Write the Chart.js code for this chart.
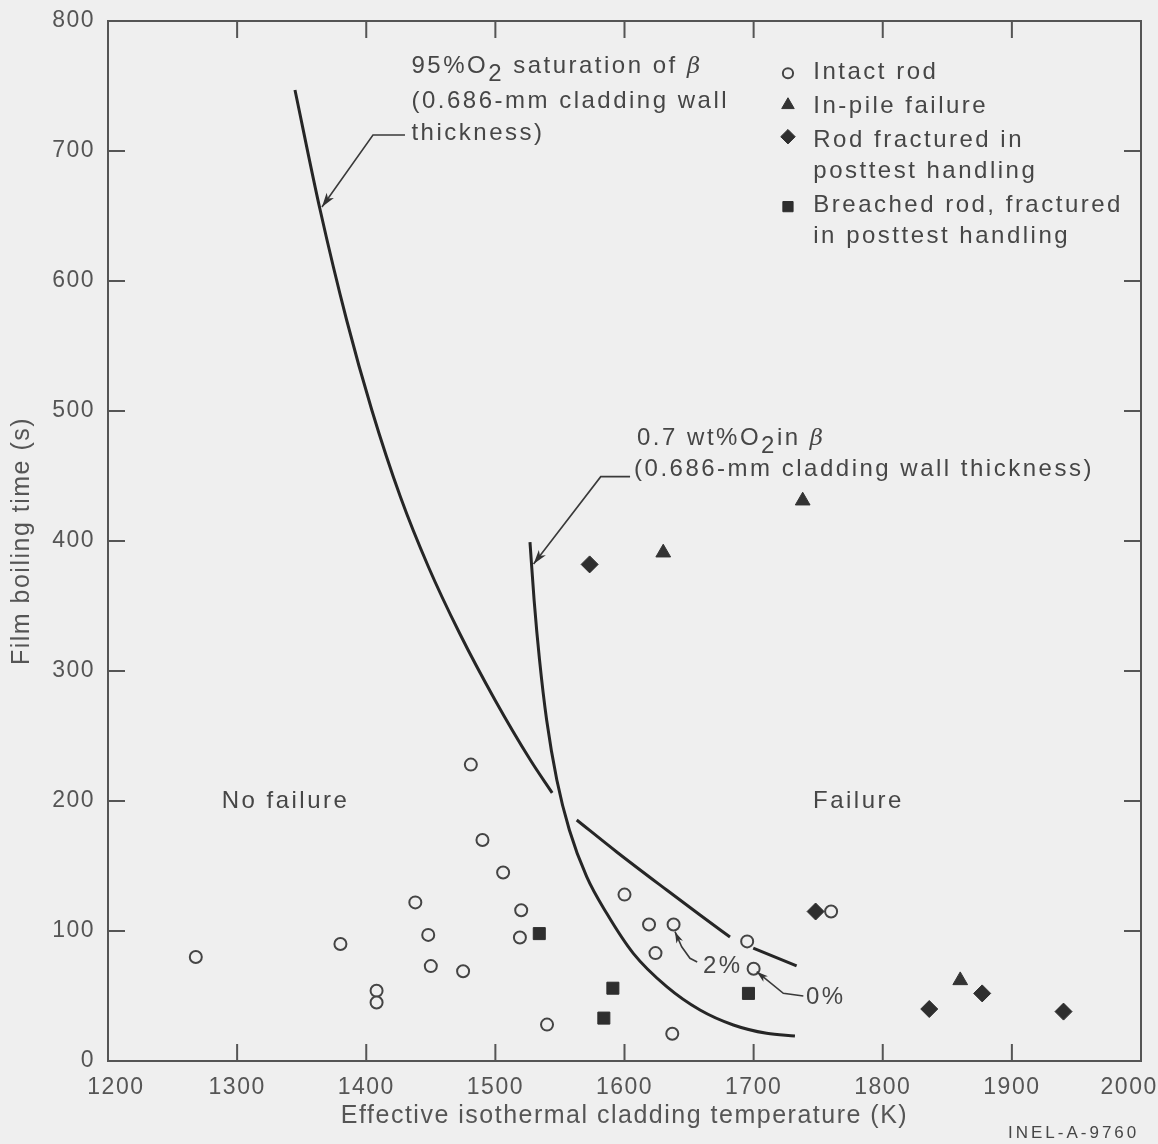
<!DOCTYPE html>
<html>
<head>
<meta charset="utf-8">
<title>Film boiling time vs effective cladding temperature</title>
<script src="https://cdn.jsdelivr.net/npm/chart.js@4.4.1/dist/chart.umd.min.js"></script>
<style>
  html, body { margin: 0; padding: 0; background: #efefef; }
  #wrap { position: relative; width: 1158px; height: 1144px; }
</style>
</head>
<body>
<div id="wrap"><canvas id="chart"></canvas></div>
<script>
// axis ticks
const tempTicks = [1200, 1300, 1400, 1500, 1600, 1700, 1800, 1900, 2000];
const timeTicks = [0, 100, 200, 300, 400, 500, 600, 700, 800];

// test rods: [temperature K, film boiling time s]
const intactRod = [
  [1268, 80], [1380, 90], [1408, 54], [1408, 45], [1438, 122], [1448, 97],
  [1450, 73], [1475, 69], [1481, 228], [1490, 170], [1506, 145], [1520, 116],
  [1519, 95], [1540, 28], [1600, 128], [1619, 105], [1638, 105], [1624, 83],
  [1637, 21], [1695, 92], [1700, 71], [1760, 115]
];
const inPileFailure = [[1630, 391], [1738, 431], [1860, 62]];
const fracturedHandling = [[1573, 382], [1748, 115], [1836, 40], [1877, 52], [1940, 38]];
const breachedRod = [[1534, 98], [1591, 56], [1584, 33], [1696, 52]];

// boundary curves (null = break in the drawn line)
const curveSat95 = [
  [1344.8, 746.9], [1364.3, 654.6], [1384.8, 570.0], [1404.3, 500.8], [1426.5, 433.8],
  [1448.2, 380.0], [1472.2, 329.2], [1499.7, 277.7], [1527.1, 231.5], [1544.0, 206.2],
  [1553, null],
  [1563.0, 185.4], [1594.0, 160.8], [1632.7, 131.5], [1658.5, 112.3], [1681.7, 95.4],
  [1690, null],
  [1699.7, 86.9], [1733.3, 73.1]
];
const curveO2wt07 = [
  [1526.8, 399.2], [1530.0, 354.6], [1534.2, 308.5], [1539.7, 262.3], [1547.6, 216.2],
  [1557.3, 177.7], [1570.7, 141.8], [1586.2, 113.6], [1606.8, 82.8], [1632.7, 57.2],
  [1658.5, 39.2], [1684.3, 27.7], [1710.1, 21.3], [1732.0, 19.2]
];

const BG = '#efefef';
const INK = '#464646';
const DARK = '#262626';
const FONT = '"Liberation Sans", Arial, sans-serif';

const pts = arr => arr.map(([x, y]) => ({ x, y }));

const markStyles = {
  circle:  { pointStyle: 'circle',  radius: 6,   borderWidth: 2, fill: BG,      stroke: '#444' },
  triangle:{ pointStyle: 'triangle',radius: 8.5, borderWidth: 1, fill: '#333',  stroke: '#333' },
  diamond: { pointStyle: 'rectRot', radius: 8.5, borderWidth: 1, fill: '#2e2e2e', stroke: '#2e2e2e' },
  square:  { pointStyle: 'rect',    radius: 8.5, borderWidth: 1, fill: '#2e2e2e', stroke: '#2e2e2e' }
};

function markDataset(label, data, st) {
  return {
    label: label,
    data: pts(data),
    pointStyle: st.pointStyle,
    pointRadius: st.radius,
    pointBorderWidth: st.borderWidth,
    pointBackgroundColor: st.fill,
    pointBorderColor: st.stroke,
    showLine: false
  };
}

function curveDataset(label, data) {
  return {
    label: label,
    data: pts(data),
    showLine: true,
    pointRadius: 0,
    borderColor: DARK,
    borderWidth: 3,
    cubicInterpolationMode: 'monotone',
    spanGaps: false
  };
}

// frame with inward ticks on all four sides
const framePlugin = {
  id: 'frame',
  beforeDraw(chart) {
    const ctx = chart.ctx;
    ctx.save();
    ctx.fillStyle = BG;
    ctx.fillRect(0, 0, chart.width, chart.height);
    ctx.restore();
    ctx.letterSpacing = '1.5px';
  },
  beforeDatasetsDraw(chart) {
    const { ctx, chartArea: a, scales: { x, y } } = chart;
    const len = 17;
    ctx.save();
    ctx.strokeStyle = '#555';
    ctx.lineWidth = 2;
    ctx.strokeRect(a.left, a.top, a.right - a.left, a.bottom - a.top);
    ctx.beginPath();
    tempTicks.slice(1, -1).forEach(v => {
      const px = x.getPixelForValue(v);
      ctx.moveTo(px, a.bottom); ctx.lineTo(px, a.bottom - len);
      ctx.moveTo(px, a.top); ctx.lineTo(px, a.top + len);
    });
    timeTicks.slice(1, -1).forEach(v => {
      const py = y.getPixelForValue(v);
      ctx.moveTo(a.left, py); ctx.lineTo(a.left + len, py);
      ctx.moveTo(a.right, py); ctx.lineTo(a.right - len, py);
    });
    ctx.stroke();
    ctx.restore();
  }
};

// labels, leader arrows and the key, placed in data units
const notesPlugin = {
  id: 'notes',
  afterDatasetsDraw(chart) {
    const { ctx, scales: { x, y } } = chart;
    const P = (t, v) => [x.getPixelForValue(t), y.getPixelForValue(v)];
    const size = 24;

    function rich(segs, t, v) {
      let [cx, cy] = P(t, v);
      segs.forEach(s => {
        ctx.font = s.it ? 'italic ' + (size - 1) + 'px "DejaVu Serif", serif' : size + 'px ' + FONT;
        ctx.fillText(s.t, cx, cy + (s.sub ? 8 : 0));
        cx += ctx.measureText(s.t).width;
      });
    }
    function text(str, t, v) { rich([{ t: str }], t, v); }

    function leader(path, head) {
      const p = path.map(([t, v]) => P(t, v));
      ctx.beginPath();
      ctx.moveTo(p[0][0], p[0][1]);
      p.slice(1).forEach(q => ctx.lineTo(q[0], q[1]));
      ctx.stroke();
      const [ax, ay] = p[p.length - 1];
      const [bx, by] = p[p.length - 2];
      const ang = Math.atan2(ay - by, ax - bx);
      ctx.beginPath();
      ctx.moveTo(ax, ay);
      ctx.lineTo(ax - head * Math.cos(ang - 0.3), ay - head * Math.sin(ang - 0.3));
      ctx.lineTo(ax - head * 0.7 * Math.cos(ang), ay - head * 0.7 * Math.sin(ang));
      ctx.lineTo(ax - head * Math.cos(ang + 0.3), ay - head * Math.sin(ang + 0.3));
      ctx.closePath();
      ctx.fill();
    }

    ctx.save();
    ctx.letterSpacing = '2.5px';
    ctx.fillStyle = INK;
    ctx.textAlign = 'left';
    ctx.textBaseline = 'alphabetic';

    rich([{ t: '95%O' }, { t: '2', sub: true }, { t: ' saturation of ' }, { t: 'β', it: true }], 1435, 760);
    text('(0.686-mm cladding wall', 1435, 732.8);
    text('thickness)', 1435, 708.5);

    rich([{ t: '0.7 wt%O' }, { t: '2', sub: true }, { t: 'in ' }, { t: 'β', it: true }], 1609.7, 473.8);
    text('(0.686-mm cladding wall thickness)', 1607.4, 450);

    text('No failure', 1288, 194.6);
    text('Failure', 1746, 194.6);
    text('2%', 1660.8, 67.7);
    text('0%', 1740.5, 43.8);

    ctx.strokeStyle = '#3a3a3a';
    ctx.fillStyle = '#333';
    ctx.lineWidth = 1.6;
    leader([[1430, 712.3], [1405.2, 712.3], [1365.7, 656.9]], 15);
    leader([[1604.3, 449.5], [1581.6, 449.5], [1529.6, 382.3]], 15);
    leader([[1656.3, 76.2], [1650.7, 79], [1644.3, 87.9], [1639.1, 99.5]], 12);
    leader([[1738.5, 50], [1723, 52.1], [1702.4, 68.7]], 12);

    // key
    const keyT = 1726.6, keyTextT = 1746.2;
    const keyMarks = [[markStyles.circle, 759.8], [markStyles.triangle, 735.4],
                      [markStyles.diamond, 711], [markStyles.square, 657.2]];
    keyMarks.forEach(([st, v]) => {
      const [px, py] = P(keyT, v);
      ctx.fillStyle = st.fill;
      ctx.strokeStyle = st.stroke;
      ctx.lineWidth = st.borderWidth;
      Chart.helpers.drawPoint(ctx, { pointStyle: st.pointStyle, radius: st.radius * 0.85,
        borderWidth: st.borderWidth, rotation: 0 }, px, py);
    });
    ctx.fillStyle = INK;
    text('Intact rod', keyTextT, 755.2);
    text('In-pile failure', keyTextT, 729);
    text('Rod fractured in', keyTextT, 703.3);
    text('posttest handling', keyTextT, 679);
    text('Breached rod, fractured', keyTextT, 653.3);
    text('in posttest handling', keyTextT, 629);

    ctx.font = '17px ' + FONT;
    ctx.letterSpacing = '3px';
    ctx.fillText('INEL-A-9760', ...P(1897, -59.2));
    ctx.restore();
  }
};

new Chart(document.getElementById('chart'), {
  type: 'scatter',
  data: {
    datasets: [
      markDataset('Rod fractured in posttest handling', fracturedHandling, markStyles.diamond),
      markDataset('In-pile failure', inPileFailure, markStyles.triangle),
      markDataset('Breached rod, fractured in posttest handling', breachedRod, markStyles.square),
      markDataset('Intact rod', intactRod, markStyles.circle),
      curveDataset('95% O2 saturation of β', curveSat95),
      curveDataset('0.7 wt% O2 in β', curveO2wt07)
    ]
  },
  options: {
    responsive: true,
    maintainAspectRatio: false,
    animation: false,
    events: [],
    layout: { padding: { top: 21, right: 17, left: 0, bottom: 0 } },
    plugins: { legend: { display: false }, tooltip: { enabled: false } },
    scales: {
      x: {
        type: 'linear',
        min: 1200,
        max: 2000,
        afterBuildTicks: s => { s.ticks = tempTicks.map(v => ({ value: v })); },
        afterFit: s => { s.height = 83; s.paddingLeft = 0; s.paddingRight = 0; },
        grid: { display: false, drawTicks: false },
        border: { display: false },
        ticks: {
          color: '#555',
          font: { family: FONT, size: 23 },
          padding: 13,
          maxRotation: 0,
          autoSkip: false,
          callback: v => v === 2000 ? '2000   ' : (v === 1200 ? '  1200' : String(v))
        },
        title: {
          display: true,
          text: 'Effective isothermal cladding temperature (K)',
          color: '#555',
          font: { family: FONT, size: 25 },
          padding: { top: 13, bottom: 13 }
        }
      },
      y: {
        type: 'linear',
        min: 0,
        max: 800,
        afterBuildTicks: s => { s.ticks = timeTicks.map(v => ({ value: v })); },
        afterFit: s => { s.width = 108; s.paddingTop = 0; s.paddingBottom = 0; },
        grid: { display: false, drawTicks: false },
        border: { display: false },
        ticks: {
          color: '#555',
          font: { family: FONT, size: 23 },
          padding: 13,
          autoSkip: false
        },
        title: {
          display: true,
          text: 'Film boiling time (s)',
          color: '#555',
          font: { family: FONT, size: 25 },
          padding: { top: 7, bottom: 7 }
        }
      }
    }
  },
  plugins: [framePlugin, notesPlugin]
});
</script>
</body>
</html>
